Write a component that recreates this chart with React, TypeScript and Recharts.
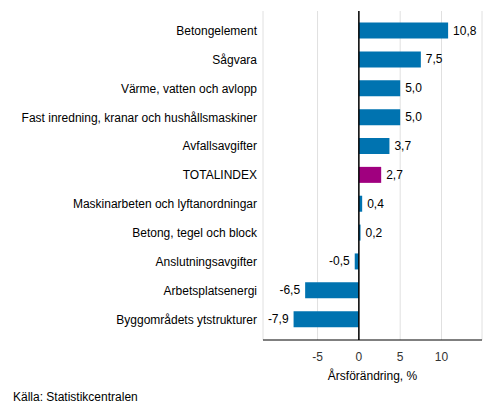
import { BarChart, Bar, XAxis, YAxis, CartesianGrid, ReferenceLine, LabelList, Cell } from 'recharts';

const categories = [
  'Betongelement',
  'Sågvara',
  'Värme, vatten och avlopp',
  'Fast inredning, kranar och hushållsmaskiner',
  'Avfallsavgifter',
  'TOTALINDEX',
  'Maskinarbeten och lyftanordningar',
  'Betong, tegel och block',
  'Anslutningsavgifter',
  'Arbetsplatsenergi',
  'Byggområdets ytstrukturer',
];
const values = [10.8, 7.5, 5.0, 5.0, 3.7, 2.7, 0.4, 0.2, -0.5, -6.5, -7.9];
const xTicks = [-5, 0, 5, 10];

const data = categories.map((name, i) => ({ name, value: values[i] }));

const BLUE = '#0073b0';
const MAGENTA = '#a0007f';
const FONT = '"Liberation Sans", Arial, sans-serif';

// värdeetikett till höger om positiva staplar, till vänster om negativa
const ValueLabel = (props: any) => {
  const { x, y, width, height, value } = props;
  const neg = value < 0;
  const left = Math.min(x, x + width);
  const right = Math.max(x, x + width);
  return (
    <text
      x={neg ? left - 5 : right + 5}
      y={y + height / 2}
      dy={4}
      textAnchor={neg ? 'end' : 'start'}
      fontSize={12}
      fontFamily={FONT}
      fill="#000"
    >
      {value.toFixed(1).replace('.', ',')}
    </text>
  );
};

// kategorinamn på en rad, högerjusterade
const CategoryTick = (props: any) => {
  const { x, y, payload } = props;
  return (
    <text x={x} y={y} dy={4} textAnchor="end" fontSize={12} fontFamily={FONT} fill="#000">
      {payload.value}
    </text>
  );
};

const App = () => {
  return (
    <div style={{ position: 'absolute', left: 0, top: 0, width: 493, height: 416, background: '#fff', fontFamily: FONT }}>
      <BarChart
        width={493}
        height={416}
        data={data}
        layout="vertical"
        margin={{ top: 11, right: 11, bottom: 36, left: 0 }}
      >
        <CartesianGrid horizontal={false} stroke="#e0e0e0" />
        <XAxis
          type="number"
          domain={[-11.6, 14.9]}
          ticks={xTicks}
          allowDataOverflow
          tickLine={false}
          axisLine={{ stroke: '#000' }}
          tick={{ fontSize: 12, fill: '#333', fontFamily: FONT }}
          tickMargin={6}
          label={{ value: 'Årsförändring, %', position: 'insideBottom', offset: 0, fontSize: 12, fill: '#000', fontFamily: FONT }}
          height={40}
        />
        <YAxis
          type="category"
          dataKey="name"
          width={263}
          tickLine={false}
          tickSize={0}
          tickMargin={6}
          axisLine={false}
          interval={0}
          padding={{ top: 5.6, bottom: 6 }}
          tick={<CategoryTick />}
        />
        <Bar dataKey="value" barSize={16} isAnimationActive={false}>
          {data.map((d, i) => (
            <Cell key={i} fill={d.name === 'TOTALINDEX' ? MAGENTA : BLUE} />
          ))}
          <LabelList dataKey="value" content={ValueLabel} />
        </Bar>
        <ReferenceLine x={0} stroke="#000" strokeWidth={1.5} />
      </BarChart>
      <div style={{ position: 'absolute', left: 13, top: 390, fontSize: 12, color: '#000' }}>
        Källa: Statistikcentralen
      </div>
    </div>
  );
};

export default App;
